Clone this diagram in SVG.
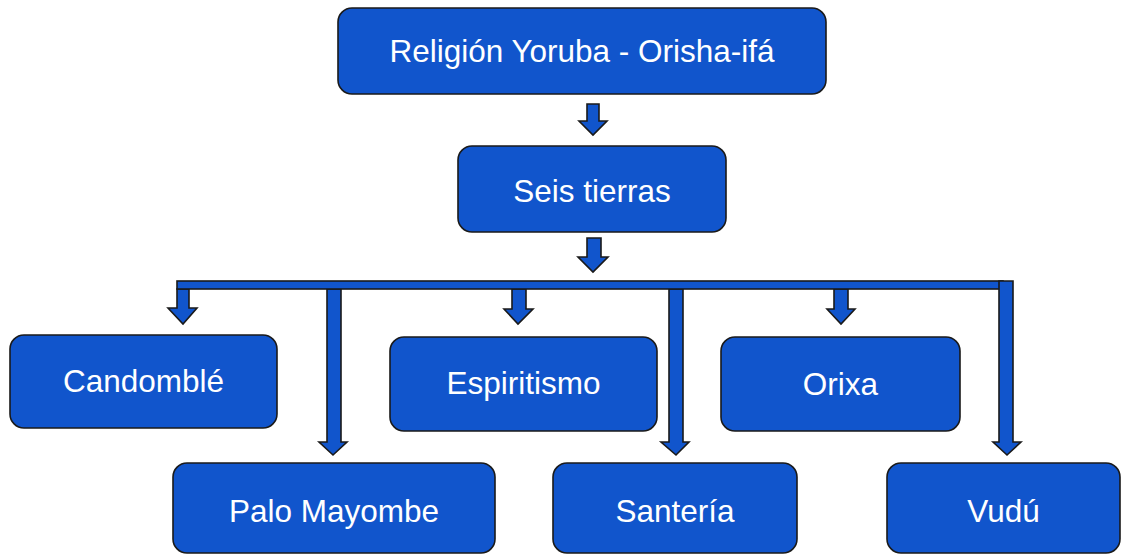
<svg xmlns="http://www.w3.org/2000/svg" width="1122" height="555" viewBox="0 0 1122 555">
<style>
.box{fill:#1155cc;stroke:#1a1a1a;stroke-width:1.6}
.lbl{fill:#ffffff;font-family:"Liberation Sans",Arial,sans-serif;font-size:31.5px;text-anchor:middle}
.con{fill:#1155cc;stroke:#1a1a1a;stroke-width:1.6;stroke-linejoin:miter}
</style>
<rect width="1122" height="555" fill="#ffffff"/>
<g id="connectors">
<polygon class="con" points="587,104 599,104 599,121 607,121 593,135 579,121 587,121"/>
<polygon class="con" points="587,238 601,238 601,257 608,257 593,272 578,257 587,257"/>
<polygon class="con" points="177,289 189,289 189,308 197,308 183,324 168,308 177,308"/>
<polygon class="con" points="512,289 526,289 526,309 533,309 518,324 504,309 512,309"/>
<polygon class="con" points="834,289 848,289 848,309 855,309 841,324 827,309 834,309"/>
<polygon class="con" points="327,289 341,289 341,442 347,442 333,455 319,442 327,442"/>
<polygon class="con" points="669,289 683,289 683,442 689,442 676,455 661,442 669,442"/>
<rect class="con" x="177" y="281" width="826" height="8"/>
<polygon class="con" points="999,281 1013,281 1013,442 1021,442 1007,455 993,442 999,442"/>
</g>
<g id="n-yoruba">
<rect class="box" x="338" y="8" width="488" height="86" rx="14"/>
<text class="lbl" x="582" y="62">Religión Yoruba - Orisha-ifá</text>
</g>
<g id="n-seis">
<rect class="box" x="458" y="146" width="268" height="86" rx="14"/>
<text class="lbl" x="592" y="202">Seis tierras</text>
</g>
<g id="n-candomble">
<rect class="box" x="10" y="335" width="267" height="93" rx="14"/>
<text class="lbl" x="143.5" y="392">Candomblé</text>
</g>
<g id="n-espiritismo">
<rect class="box" x="390" y="337" width="267" height="94" rx="14"/>
<text class="lbl" x="523.5" y="394">Espiritismo</text>
</g>
<g id="n-orixa">
<rect class="box" x="721" y="337" width="239" height="94" rx="14"/>
<text class="lbl" x="840.5" y="395">Orixa</text>
</g>
<g id="n-palo">
<rect class="box" x="173" y="463" width="322" height="90" rx="14"/>
<text class="lbl" x="334" y="522">Palo Mayombe</text>
</g>
<g id="n-santeria">
<rect class="box" x="553" y="463" width="244" height="90" rx="14"/>
<text class="lbl" x="675" y="522">Santería</text>
</g>
<g id="n-vudu">
<rect class="box" x="887" y="463" width="233" height="90" rx="14"/>
<text class="lbl" x="1003.5" y="522">Vudú</text>
</g>
</svg>
